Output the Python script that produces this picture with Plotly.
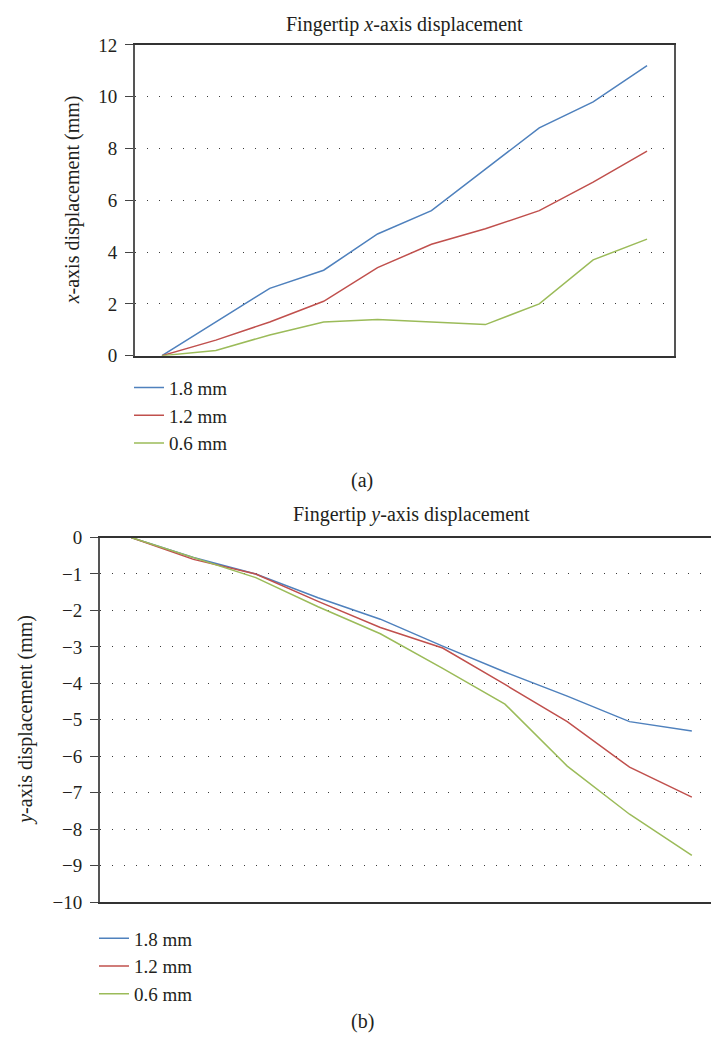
import plotly.graph_objects as go

# ---------------- data ----------------
steps = [1, 2, 3, 4, 5, 6, 7, 8, 9, 10]
series_names = ["1.8 mm", "1.2 mm", "0.6 mm"]

x_disp_18 = [0, 1.3, 2.6, 3.3, 4.7, 5.6, 7.2, 8.8, 9.8, 11.2]
x_disp_12 = [0, 0.6, 1.3, 2.1, 3.4, 4.3, 4.9, 5.6, 6.7, 7.9]
x_disp_06 = [0, 0.2, 0.8, 1.3, 1.4, 1.3, 1.2, 2.0, 3.7, 4.5]

y_disp_18 = [0, -0.55, -1.0, -1.65, -2.24, -2.98, -3.69, -4.35, -5.05, -5.31]
y_disp_12 = [0, -0.6, -1.0, -1.75, -2.47, -3.03, -4.03, -5.05, -6.3, -7.12]
y_disp_06 = [0, -0.55, -1.1, -1.9, -2.64, -3.59, -4.57, -6.27, -7.59, -8.72]

x_ticks = [0, 2, 4, 6, 8, 10, 12]
y_ticks = [0, -1, -2, -3, -4, -5, -6, -7, -8, -9, -10]

colors = ["#4F81BD", "#C0504D", "#9BBB59"]

W, H = 711, 1049
FONT = "Liberation Serif"
FS = 20
FS_TICK = 19
FS_LEG = 19

fig = go.Figure()

for name, vals, c in zip(series_names, [x_disp_18, x_disp_12, x_disp_06], colors):
    fig.add_trace(go.Scatter(x=[str(s) for s in steps], y=vals, name=name, mode="lines",
                             line=dict(color=c, width=1.5), xaxis="x", yaxis="y", legend="legend"))
for name, vals, c in zip(series_names, [y_disp_18, y_disp_12, y_disp_06], colors):
    fig.add_trace(go.Scatter(x=[str(s) for s in steps], y=vals, name=name, mode="lines",
                             line=dict(color=c, width=1.5), xaxis="x2", yaxis="y2", legend="legend2"))

def px_x(p):
    return p / W

def px_y(p):
    return 1 - p / H

grid = dict(showgrid=True, gridcolor="#3a3a3a", gridwidth=1.3, griddash="1px,11px")

top_left, top_right, top_top, top_bot = 135, 674, 35.7, 352.7
bot_left, bot_right, bot_top, bot_bot = 100, 711, 538.3, 910.3
cat_w = 62.3
bot_range_end = -0.5 + (bot_right - bot_left) / cat_w

fig.update_layout(
    width=W, height=H,
    margin=dict(l=0, r=0, t=0, b=0),
    paper_bgcolor="white", plot_bgcolor="white",
    font=dict(family=FONT, size=FS, color="#231f20"),
    xaxis=dict(domain=[px_x(top_left), px_x(top_right)], anchor="y", type="category",
               range=[-0.5, 9.5], showticklabels=False, ticks="", showgrid=False,
               showline=True, linecolor="#333", linewidth=1.5, mirror=True, zeroline=False),
    yaxis=dict(domain=[px_y(top_bot), px_y(top_top)], anchor="x", range=[0, 12],
               tickvals=x_ticks, ticks="outside", ticklen=8, tickcolor="#444", tickwidth=1.3,
               tickfont=dict(size=FS_TICK),
               showline=True, linecolor="#555", linewidth=2, mirror=True, zeroline=False,
               ticklabelstandoff=4, **grid),
    xaxis2=dict(domain=[px_x(bot_left), 1.0], anchor="y2", type="category",
                range=[-0.5, bot_range_end], showticklabels=False, ticks="", showgrid=False,
                showline=True, linecolor="#333", linewidth=1.5, mirror=True, zeroline=False),
    yaxis2=dict(domain=[px_y(bot_bot), px_y(bot_top)], anchor="x2", range=[-10, 0],
                tickvals=y_ticks, ticks="outside", ticklen=8, tickcolor="#444", tickwidth=1.3,
                tickfont=dict(size=FS_TICK),
                showline=True, linecolor="#555", linewidth=2, mirror=False, zeroline=False,
                ticklabelstandoff=4, **grid),
    legend=dict(x=px_x(129), y=px_y(366), xanchor="left", yanchor="top",
                bgcolor="rgba(0,0,0,0)", font=dict(family=FONT, size=FS_LEG), tracegroupgap=0),
    legend2=dict(x=px_x(94), y=px_y(928), xanchor="left", yanchor="top",
                 bgcolor="rgba(0,0,0,0)", font=dict(family=FONT, size=FS_LEG), tracegroupgap=0),
    showlegend=True,
)

ann = []
ann.append(dict(text="Fingertip <i>x</i>-axis displacement", x=px_x((top_left + top_right) / 2),
                y=px_y(15), xref="paper", yref="paper", showarrow=False,
                xanchor="center", yanchor="middle", font=dict(family=FONT, size=FS)))
ann.append(dict(text="Fingertip <i>y</i>-axis displacement", x=px_x((bot_left + bot_left + 10 * cat_w) / 2),
                y=px_y(515), xref="paper", yref="paper", showarrow=False,
                xanchor="center", yanchor="middle", font=dict(family=FONT, size=FS)))
ann.append(dict(text="<i>x</i>-axis displacement (mm)", x=px_x(72), y=px_y((top_top + top_bot) / 2),
                xref="paper", yref="paper", showarrow=False, textangle=-90,
                xanchor="center", yanchor="middle", font=dict(family=FONT, size=FS)))
ann.append(dict(text="<i>y</i>-axis displacement (mm)", x=px_x(26), y=px_y((bot_top + bot_bot) / 2),
                xref="paper", yref="paper", showarrow=False, textangle=-90,
                xanchor="center", yanchor="middle", font=dict(family=FONT, size=FS)))
ann.append(dict(text="(a)", x=px_x(362), y=px_y(480), xref="paper", yref="paper",
                showarrow=False, xanchor="center", yanchor="middle", font=dict(family=FONT, size=FS)))
ann.append(dict(text="(b)", x=px_x(362), y=px_y(1032), xref="paper", yref="paper",
                showarrow=False, xanchor="center", yanchor="middle", font=dict(family=FONT, size=FS)))
fig.update_layout(annotations=ann)

fig.write_html("out.html")
